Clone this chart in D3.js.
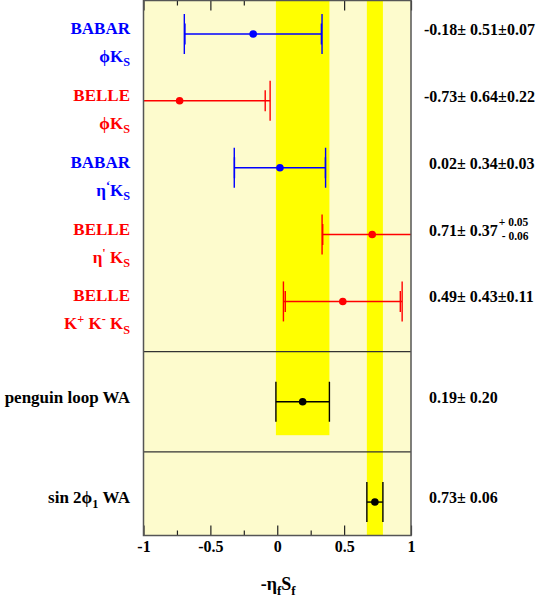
<!DOCTYPE html>
<html><head><meta charset="utf-8">
<script src="https://cdn.jsdelivr.net/npm/d3@7"></script>
<style>
body{margin:0;background:#fff}
text{font-family:"Liberation Serif","Times New Roman",serif;font-weight:bold}
</style></head><body>
<svg class="chart" width="545" height="596"></svg>
<script>
// measurements, top to bottom
const experiments = ['BABAR','BELLE','BABAR','BELLE','BELLE','','']
const channels = ['ϕK_S','ϕK_S','η^‘K_S','η^\' K_S','K^+ K^- K_S','penguin loop WA','sin 2ϕ_1 WA']
const values = [-0.18,-0.73,0.02,0.71,0.49,0.19,0.73]
const statErr = [0.51,0.64,0.34,0.37,0.43,0.20,0.06]
const systUp = [0.07,0.22,0.03,0.05,0.11,null,null]
const systDown = [0.07,0.22,0.03,0.06,0.11,null,null]
const rowPos = [0.5,1.5,2.5,3.5,4.5,6,7.5]
const separators = [5.25,6.75]
// world averages shown as bands: [row index, band bottom]
const bands = [[5,6.5],[6,8]]
const majorTicks = [-1,-0.5,0,0.5,1]
const minorTicks = [-0.75,-0.25,0.25,0.75]

const colorOf = e => e=='BABAR' ? '#0000ff' : e=='BELLE' ? '#ff0000' : '#000'

const svg = d3.select('svg.chart')
const x = d3.scaleLinear().domain([-1,1]).range([143.5,411])
const y = d3.scaleLinear().domain([0,8]).range([0.5,535.5])

// background
svg.append('rect').attr('x',x(-1)).attr('y',y(0)).attr('width',x(1)-x(-1)).attr('height',y(8)-y(0))
   .attr('fill','#fdfbcd')

// ticks (inside the frame)
const tickAxis = (axisFn,yy,vals,size) => svg.append('g').attr('transform',`translate(0,${yy})`)
   .call(axisFn(x).tickValues(vals).tickSize(size).tickFormat(''))
   .call(g=>g.select('.domain').remove())
   .call(g=>g.selectAll('line').attr('stroke','#222').attr('stroke-width',1.2))
tickAxis(d3.axisBottom,y(0),majorTicks,10)
tickAxis(d3.axisBottom,y(0),minorTicks,5)
tickAxis(d3.axisTop,y(8),majorTicks,10)
tickAxis(d3.axisTop,y(8),minorTicks,5)

// yellow average bands
svg.append('g').selectAll('rect').data(bands).join('rect')
   .attr('x',d=>x(values[d[0]]-statErr[d[0]]))
   .attr('width',d=>x(values[d[0]]+statErr[d[0]])-x(values[d[0]]-statErr[d[0]]))
   .attr('y',y(0)).attr('height',d=>y(d[1])-y(0))
   .attr('fill','#ffff00')

// separators
svg.append('g').selectAll('line').data(separators).join('line')
   .attr('x1',x(-1)).attr('x2',x(1)).attr('y1',d=>y(d)).attr('y2',d=>y(d))
   .attr('stroke','#333').attr('stroke-width',1.2)

// error bars
svg.append('clipPath').attr('id','frame').append('rect')
   .attr('x',x(-1)).attr('y',y(0)).attr('width',x(1)-x(-1)).attr('height',y(8)-y(0))
const bars = svg.append('g').attr('clip-path','url(#frame)')
values.forEach((v,i)=>{
  const col = colorOf(experiments[i])
  const yy = y(rowPos[i])
  const lo = systDown[i]==null ? statErr[i] : Math.hypot(statErr[i],systDown[i])
  const hi = systUp[i]==null ? statErr[i] : Math.hypot(statErr[i],systUp[i])
  const g = bars.append('g').attr('stroke',col).attr('stroke-width',1.4)
  g.append('line').attr('x1',x(v-lo)).attr('x2',x(v+hi)).attr('y1',yy).attr('y2',yy)
  ;[v-lo,v+hi].forEach(e=>{
    if(e>=-1 && e<=1) g.append('line').attr('x1',x(e)).attr('x2',x(e)).attr('y1',yy-20).attr('y2',yy+20)
  })
  if(systUp[i]!=null){
    ;[v-statErr[i],v+statErr[i]].forEach(e=>{
      if(e>=-1 && e<=1) g.append('line').attr('x1',x(e)).attr('x2',x(e)).attr('y1',yy-10.5).attr('y2',yy+10.5)
    })
  }
  bars.append('circle').attr('cx',x(v)).attr('cy',yy).attr('r',3.8).attr('fill',col)
})

// frame
svg.append('rect').attr('x',x(-1)).attr('y',y(0)).attr('width',x(1)-x(-1)).attr('height',y(8)-y(0))
   .attr('fill','none').attr('stroke','#555').attr('stroke-width',1.5)

// axis labels
svg.append('g').attr('transform',`translate(0,${y(8)})`)
   .call(d3.axisBottom(x).tickValues(majorTicks).tickSize(0).tickPadding(5).tickFormat(d=>String(d)))
   .call(g=>g.select('.domain').remove())
   .call(g=>g.selectAll('text').attr('font-size',16).attr('fill','#000').attr('dy','0.72em')
     .style('font-family','"Liberation Serif",serif').style('font-weight','bold'))

// text with _sub and ^sup markup
function richText(sel,str,size){
  const parts = str.split(/([_^].)/).filter(s=>s.length)
  let shift = 0
  parts.forEach(p=>{
    if(p[0]=='_' || p[0]=='^'){
      const d = p[0]=='_' ? 4.5 : -6
      sel.append('tspan').attr('dy',d-shift).attr('font-size',size*0.72).text(p[1])
      shift = d
    }else{
      sel.append('tspan').attr('dy',-shift).text(p)
      shift = 0
    }
  })
}

const title = svg.append('text').attr('x',x(0)+1).attr('y',590).attr('text-anchor','middle').attr('font-size',18)
richText(title,'-η_fS_f',18)

// row labels on the left
values.forEach((v,i)=>{
  const yy = y(rowPos[i])
  const col = colorOf(experiments[i])
  if(experiments[i]){
    svg.append('text').attr('x',130).attr('y',yy).attr('text-anchor','end').attr('font-size',17).attr('fill',col).text(experiments[i])
    const t = svg.append('text').attr('x',130).attr('y',yy+28).attr('text-anchor','end').attr('font-size',17).attr('fill',col)
    richText(t,channels[i],17)
  }else{
    const t = svg.append('text').attr('x',130).attr('y',yy+1).attr('text-anchor','end').attr('font-size',17).attr('fill',col)
    richText(t,channels[i],17)
  }
})

// values on the right
values.forEach((v,i)=>{
  const yy = y(rowPos[i])+1
  const t = svg.append('text').attr('x',v<0 ? 424 : 429).attr('y',yy).attr('font-size',16).attr('fill','#000')
  let s = v.toFixed(2)+'± '+statErr[i].toFixed(2)
  if(systUp[i]!=null && systUp[i]==systDown[i]) s += '±'+systUp[i].toFixed(2)
  t.append('tspan').text(s)
  if(systUp[i]!=null && systUp[i]!=systDown[i]){
    const x0 = t.node().getComputedTextLength() + (v<0 ? 424 : 429) + 1
    svg.append('text').attr('x',x0).attr('y',yy-10).attr('font-size',11.5).text('+ '+systUp[i].toFixed(2))
    svg.append('text').attr('x',x0+3).attr('y',yy+4).attr('font-size',11.5).text('- '+systDown[i].toFixed(2))
  }
})
</script>
</body></html>
